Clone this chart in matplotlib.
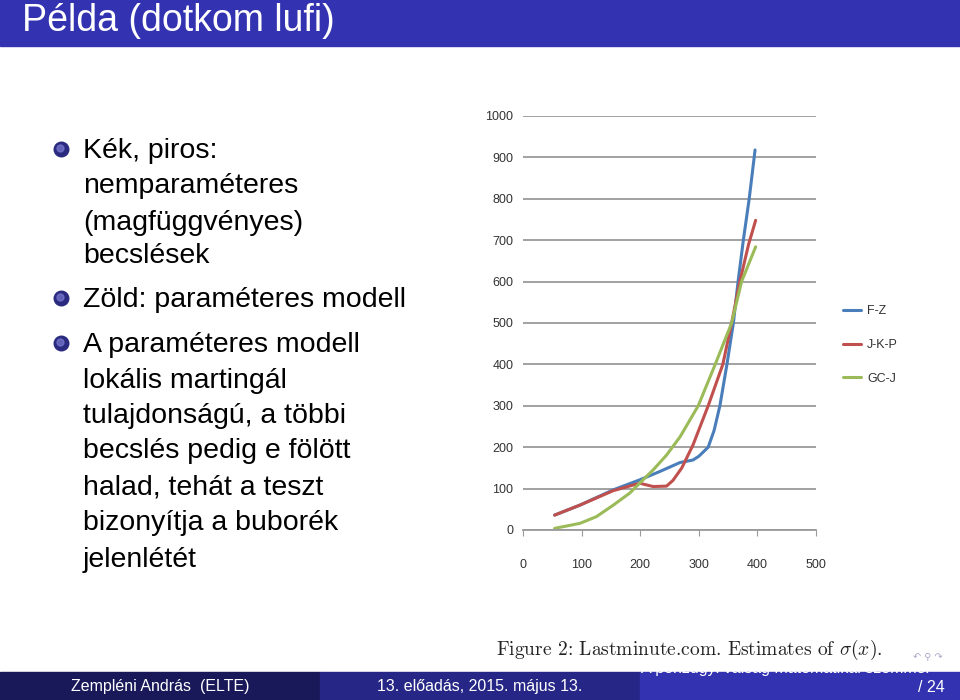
import matplotlib as mpl
import matplotlib.pyplot as plt
from matplotlib.patches import Rectangle

mpl.use('Agg')

# becslések (Lastminute.com, sigma(x))
x_fz = [54, 97, 154, 199, 233, 268, 290, 300, 316, 326, 336, 348, 359, 367, 376, 386, 396]
y_fz = [36, 60, 97, 121, 141, 163, 169, 178, 200, 240, 300, 400, 500, 600, 700, 800, 918]
x_jkp = [54, 97, 154, 199, 222, 245, 256, 271, 290, 316, 341, 356, 370, 385, 397]
y_jkp = [36, 60, 95, 113, 105, 106, 120, 150, 205, 300, 400, 500, 600, 690, 748]
x_gcj = [54, 97, 125, 154, 182, 199, 222, 245, 268, 299, 328, 356, 373, 397]
y_gcj = [4, 16, 32, 60, 89, 113, 145, 181, 225, 300, 400, 500, 600, 684]
sorozatok = ["F-Z", "J-K-P", "GC-J"]
szinek = ["#4a7ebb", "#c0504d", "#9bbb59"]
x_ticks = [0, 100, 200, 300, 400, 500]
y_ticks = [0, 100, 200, 300, 400, 500, 600, 700, 800, 900, 1000]

cim = "Példa (dotkom lufi)"
pontok = [
    ["Kék, piros:", "nemparaméteres", "(magfüggvényes)", "becslések"],
    ["Zöld: paraméteres modell"],
    ["A paraméteres modell", "lokális martingál", "tulajdonságú, a többi",
     "becslés pedig e fölött", "halad, tehát a teszt", "bizonyítja a buborék",
     "jelenlétét"],
]
sorok_y = [[158, 193, 230, 263], [307], [352, 388, 423, 458, 495, 530, 567]]
lablec = ["Zempléni András  (ELTE)", "13. előadás, 2015. május 13.",
          "A pénzügyi válság matematikai szemmel"]

plt.rcParams['font.family'] = ['Liberation Sans', 'DejaVu Sans']

fig = plt.figure(figsize=(9.6, 7.0), dpi=100)

# dia háttér, koordináták pixelben
bg = fig.add_axes([0, 0, 1, 1])
bg.set_xlim(0, 960)
bg.set_ylim(700, 0)
bg.axis('off')

bg.add_patch(Rectangle((0, 0), 960, 46, color="#3333b2"))
bg.text(22, 21, cim, color="white", fontsize=27, va='center', ha='left')

for sorok, ys in zip(pontok, sorok_y):
    bg.scatter([61], [ys[0] - 9], s=110, color="#2a2a80", zorder=3)
    bg.scatter([59.5], [ys[0] - 10.5], s=25, color="#7a7ad0", zorder=4, alpha=0.7)
    for s, y in zip(sorok, ys):
        bg.text(83, y, s, fontsize=20.5, va='baseline', ha='left', color='black')

# lábléc
bg.add_patch(Rectangle((0, 672), 320, 28, color="#191959"))
bg.add_patch(Rectangle((320, 672), 320, 28, color="#262686"))
jobb = Rectangle((640, 672), 320, 28, color="#3333b2")
bg.add_patch(jobb)
bg.text(160, 687, lablec[0], color="white", fontsize=11.5, ha='center', va='center')
bg.text(480, 687, lablec[1], color="white", fontsize=11.5, ha='center', va='center')
t = bg.text(785, 668, lablec[2], color="white", fontsize=11.5, ha='center', va='center')
t.set_clip_path(jobb)
bg.text(945, 687, "/ 24", color="white", fontsize=11.5, ha='right', va='center')
bg.text(928, 657, "↶ ⚲ ↷", color="#a8a8c8", fontsize=7, ha='center', va='center',
        family='DejaVu Sans')

bg.text(689, 650, r"Figure 2: Lastminute.com. Estimates of $\sigma(x)$.",
        fontsize=14, family='cmr10', ha='center', va='center', color='#222222',
        math_fontfamily='cm')

# grafikon
ax = fig.add_axes([523 / 960, 1 - 530 / 700, 293 / 960, 414 / 700])
for xs, ys, nev, c in zip([x_fz, x_jkp, x_gcj], [y_fz, y_jkp, y_gcj], sorozatok, szinek):
    ax.plot(xs, ys, color=c, lw=2.2, label=nev, solid_capstyle='round',
            solid_joinstyle='round')

ax.set_xlim(0, 500)
ax.set_ylim(0, 1000)
ax.set_xticks(x_ticks)
ax.set_yticks(y_ticks)
ax.yaxis.grid(True, color="#9a9a9a", lw=1.3)
ax.set_axisbelow(True)
for sp in ['top', 'right', 'left']:
    ax.spines[sp].set_visible(False)
ax.spines['bottom'].set_color("#9a9a9a")
ax.spines['bottom'].set_linewidth(1.3)
ax.tick_params(axis='y', length=0, pad=7, labelsize=9, labelcolor="#333333")
ax.tick_params(axis='x', length=4, color="#9a9a9a", pad=17, labelsize=9, labelcolor="#333333")
for lab in ax.get_xticklabels() + ax.get_yticklabels():
    lab.set_family(['Liberation Sans Narrow', 'Liberation Sans'])

ax.legend(loc='center left', bbox_to_anchor=(1.055, 0.447), frameon=False,
          handlelength=1.4, handletextpad=0.5, labelspacing=1.75, labelcolor="#333333",
          prop={'family': ['Liberation Sans Narrow', 'Liberation Sans'], 'size': 9})

fig.savefig("out.png", dpi=100)
